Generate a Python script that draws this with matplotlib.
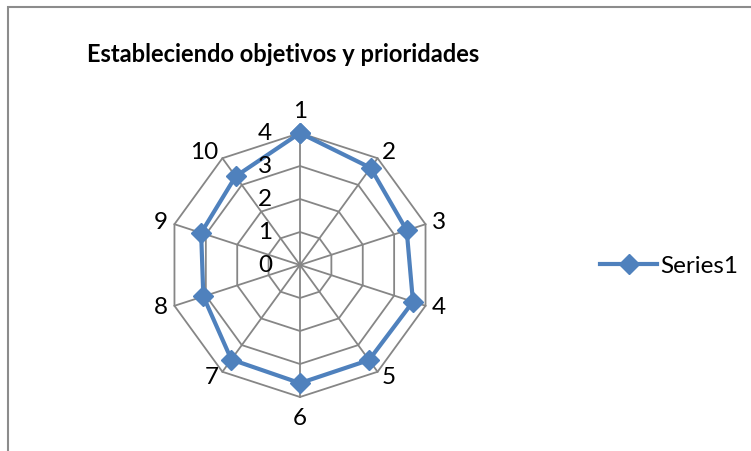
import matplotlib.pyplot as plt
import numpy as np
from matplotlib.patches import Rectangle

title = 'Estableciendo objetivos y prioridades'
categories = ['1', '2', '3', '4', '5', '6', '7', '8', '9', '10']
values = [4.0, 3.64, 3.4, 3.6, 3.56, 3.58, 3.54, 3.08, 3.15, 3.32]
rings = [0, 1, 2, 3, 4]
series_name = 'Series1'

plt.rcParams['font.family'] = ['Lato', 'DejaVu Sans']

grid_color = '#868686'
line_color = '#4F81BD'

fig = plt.figure(figsize=(7.51, 4.51), dpi=100)
ax = fig.add_axes([0.2237, 0.1197, 0.3515, 0.5854], projection='polar')
ax.set_theta_zero_location('N')
ax.set_theta_direction(-1)

angles = np.linspace(0, 2 * np.pi, len(categories), endpoint=False)
closed = np.append(angles, angles[0])

# polygon grid and spokes
for r in rings[1:]:
    ax.plot(closed, [r] * len(closed), color=grid_color, lw=1.3, zorder=1, clip_on=False)
for a in angles:
    ax.plot([a, a], [0, rings[-1]], color=grid_color, lw=1.3, zorder=1, clip_on=False)

ax.plot(closed, values + values[:1], color=line_color, lw=3.0, marker='D', ms=10,
        label=series_name, zorder=3, clip_on=False)

ax.set_ylim(0, rings[-1])
ax.grid(False)
ax.spines['polar'].set_visible(False)
ax.set_xticks([])
ax.set_yticks([])
ax.patch.set_visible(False)

# category labels outside the outer ring
for a, lab in zip(angles, categories):
    s, c = np.sin(a), np.cos(a)
    if abs(s) < 0.1:
        ha = 'center'
        va = 'bottom' if c > 0 else 'top'
        gap = 8
    else:
        ha = 'left' if s > 0 else 'right'
        va = 'center'
        gap = 5
    ax.annotate(lab, xy=(a, rings[-1]), xytext=(gap * s, gap * c), textcoords='offset points',
                ha=ha, va=va, fontsize=17.5, annotation_clip=False)

# radial value labels
for r in rings:
    ax.annotate(str(r), xy=(0, r), xytext=(-20, 0), textcoords='offset points',
                ha='right', va='center', fontsize=17.5, annotation_clip=False)

fig.text(283.5 / 751, 1 - 55 / 451, title, ha='center', va='center', fontsize=17, weight='bold')

fig.legend(loc='center left', bbox_to_anchor=(600 / 751, (451 - 266) / 451), frameon=False,
           fontsize=17.5, handlelength=2.35, handletextpad=0.12, borderpad=0, borderaxespad=0)

fig.add_artist(Rectangle((8 / 751, -0.1), 1.0, (451 - 7) / 451 + 0.1, transform=fig.transFigure,
                         fill=False, edgecolor='#8c8c8c', lw=1.5))

fig.savefig('out.png', dpi=100)
